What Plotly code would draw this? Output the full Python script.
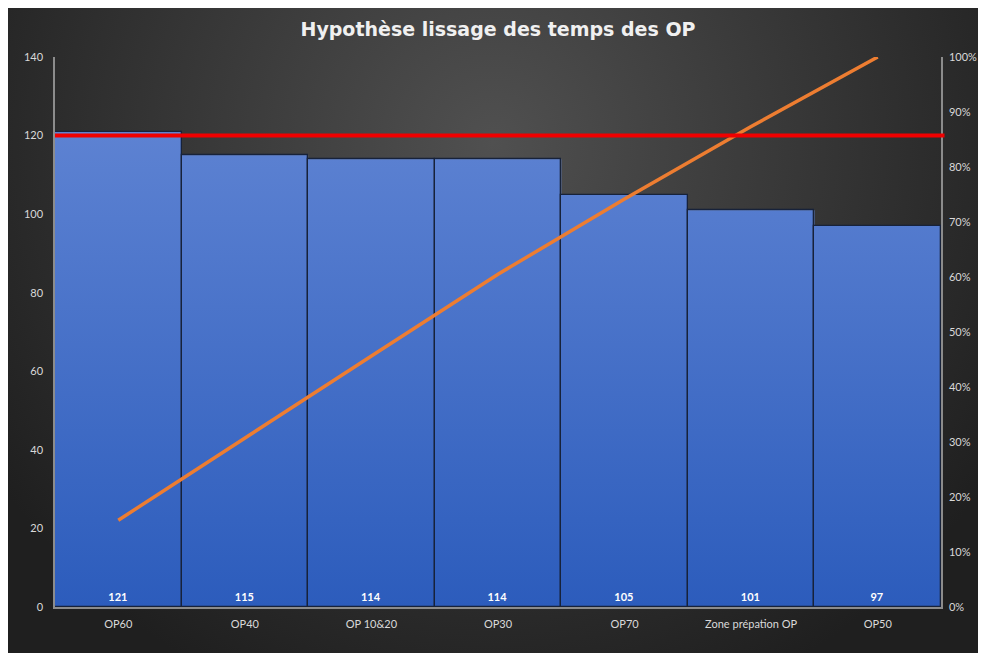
import base64
import plotly.graph_objects as go

# ---- data ----
categories = ["OP60", "OP40", "OP 10&20", "OP30", "OP70", "Zone prépation OP", "OP50"]
temps = [121, 115, 114, 114, 105, 101, 97]
takt = 120
pct_ticks = [i / 10 for i in range(11)]

total = sum(temps)
cumul = []
s = 0
for v in temps:
    s += v
    cumul.append(s / total)

n = len(categories)
xs = list(range(n))

W, H = 970, 645
L, R, T, B = 47, 37, 49, 46
pw, ph = W - L - R, H - T - B

# background radial gradient (svg)
svg = f'''<svg xmlns="http://www.w3.org/2000/svg" width="{W}" height="{H}" viewBox="0 0 {W} {H}" preserveAspectRatio="none">
<defs><radialGradient id="g" gradientUnits="userSpaceOnUse" cx="{W/2}" cy="135" r="600">
<stop offset="0" stop-color="#505050"/><stop offset="1" stop-color="#1f1f1f"/></radialGradient></defs>
<rect x="0" y="0" width="{W}" height="{H}" fill="url(#g)"/></svg>'''
bg_src = "data:image/svg+xml;base64," + base64.b64encode(svg.encode()).decode()

fig = go.Figure()

# gradient-filled bars (step fill)
step_x = [i - 0.5 for i in xs] + [n - 0.5]
step_y = temps + [temps[-1]]
fig.add_trace(go.Scatter(
    x=step_x, y=step_y, mode="lines", line=dict(width=0, shape="hv"),
    fill="tozeroy",
    fillgradient=dict(type="vertical", colorscale=[[0, "#2c5cbc"], [1, "#5d82d2"]], start=0, stop=max(temps)),
    hoverinfo="skip", showlegend=False, yaxis="y"))

# outlined bars with labels
fig.add_trace(go.Bar(
    x=xs, y=temps, width=1, yaxis="y2",
    marker=dict(color="rgba(0,0,0,0)", line=dict(color="#17223a", width=1.3)),
    text=[str(v) for v in temps], textposition="inside", insidetextanchor="start",
    textangle=0, constraintext="none",
    textfont=dict(color="#ffffff", size=11, family="Lato", weight="bold"),
    showlegend=False))

# cumulative line
fig.add_trace(go.Scatter(
    x=xs, y=cumul, mode="lines", yaxis="y3",
    line=dict(color="#ed7d31", width=3.5), showlegend=False))

fig.add_shape(type="line", xref="x domain", yref="y", x0=0, x1=1.004, y0=takt, y1=takt,
              line=dict(color="#f00000", width=4), layer="above")

fig.add_layout_image(dict(
    source=bg_src, xref="paper", yref="paper",
    x=-L / pw, y=(H - B) / ph, sizex=W / pw, sizey=H / ph,
    xanchor="left", yanchor="top", sizing="stretch", layer="below"))

axis_font = dict(family="Lato", size=11, color="#d9d9d9")
fig.update_layout(
    width=W, height=H,
    margin=dict(l=L, r=R, t=T, b=B, autoexpand=False),
    paper_bgcolor="#262626", plot_bgcolor="rgba(0,0,0,0)",
    title=dict(text="<b>Hypothèse lissage des temps des OP</b>", x=0.5, xref="paper",
               y=1 - 21 / H, yref="container", yanchor="middle", xanchor="center",
               font=dict(family="DejaVu Sans", size=19, color="#f0f0f0"),
               automargin=False),
    xaxis=dict(range=[-0.5, n - 0.5], tickvals=xs, ticktext=categories, showgrid=False,
               zeroline=False, showline=True, linecolor="#8c8c8c", linewidth=1.5,
               ticks="", tickfont=axis_font, ticklabelstandoff=6, automargin=False),
    yaxis=dict(range=[0, 140], dtick=20, showgrid=False, zeroline=False, showline=True,
               linecolor="#8c8c8c", linewidth=1.5, ticks="", tickfont=axis_font,
               ticklabelstandoff=8, automargin=False),
    yaxis2=dict(range=[0, 140], overlaying="y", visible=False, automargin=False),
    yaxis3=dict(range=[0, 1], overlaying="y", side="right", tickvals=pct_ticks,
                tickformat=".0%", showgrid=False, zeroline=False, showline=True,
                linecolor="#8c8c8c", linewidth=1.5, ticks="", tickfont=axis_font,
                ticklabelstandoff=4, automargin=False),
    bargap=0,
)

fig.write_html("out.html")
